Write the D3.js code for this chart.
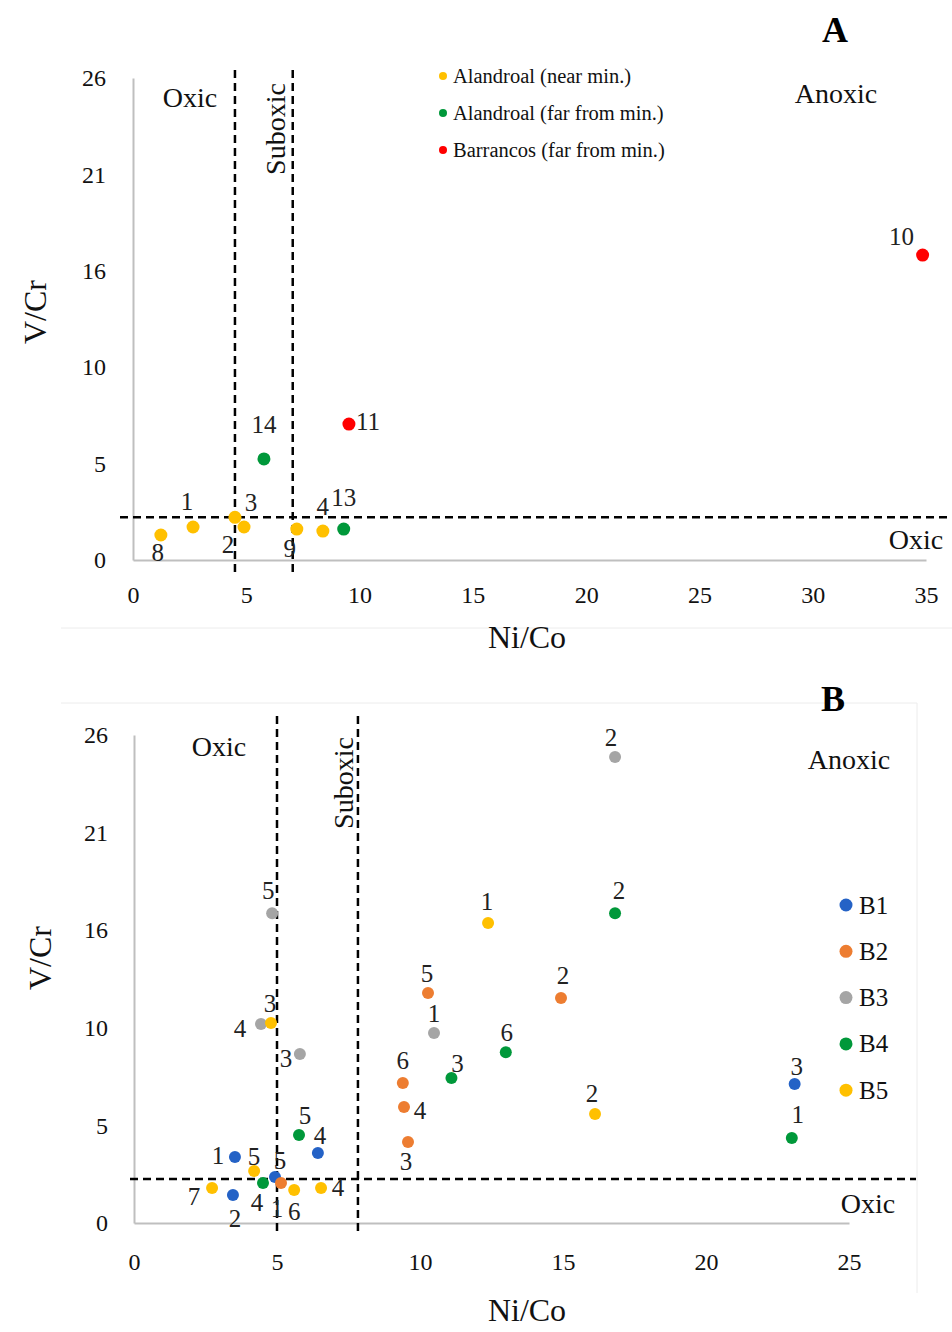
<!DOCTYPE html>
<html>
<head>
<meta charset="utf-8">
<script src="https://cdn.jsdelivr.net/npm/d3@7"></script>
<style>
  body { margin: 0; background: #fff; }
  svg { display: block; font-family: "Liberation Serif", "Times New Roman", serif; }
</style>
</head>
<body>
<div id="visualization"></div>
<script>
// shared
const yTickValues = [0, 5.2, 10.4, 15.6, 20.8, 26];

// panel A
const xTicksA = [0, 5, 10, 15, 20, 25, 30, 35];
const seriesNamesA = ['Alandroal (near min.)', 'Alandroal (far from min.)', 'Barrancos (far from min.)'];
const nearMinLabels = ['8', '1', '2', '3', '9', '4'];
const nearMinNiCo = [1.23, 2.65, 4.5, 4.9, 7.23, 8.38];
const nearMinVCr = [1.35, 1.78, 2.3, 1.78, 1.67, 1.56];
const farMinLabels = ['14', '13'];
const farMinNiCo = [5.78, 9.3];
const farMinVCr = [5.45, 1.67];
const barrancosLabels = ['11', '10'];
const barrancosNiCo = [9.53, 34.85];
const barrancosVCr = [7.33, 16.45];
const limitsNiCoA = [4.5, 7.05];
const limitsVCrA = [2.3];

// panel B
const xTicksB = [0, 5, 10, 15, 20, 25];
const seriesNamesB = ['B1', 'B2', 'B3', 'B4', 'B5'];
const b1Labels = ['1', '2', '3', '4', '5'];
const b1NiCo = [3.53, 3.46, 23.1, 6.43, 4.93];
const b1VCr = [3.52, 1.49, 7.4, 3.73, 2.45];
const b2Labels = ['1', '2', '3', '4', '5', '6'];
const b2NiCo = [5.14, 14.93, 9.58, 9.44, 10.28, 9.4];
const b2VCr = [2.13, 11.99, 4.32, 6.18, 12.25, 7.46];
const b3Labels = ['1', '2', '3', '4', '5'];
const b3NiCo = [10.49, 16.82, 5.8, 4.44, 4.83];
const b3VCr = [10.12, 24.83, 9.0, 10.6, 16.5];
const b4Labels = ['1', '2', '3', '4', '5', '6'];
const b4NiCo = [23.0, 16.82, 11.1, 4.51, 5.77, 13.0];
const b4VCr = [4.53, 16.5, 7.72, 2.13, 4.69, 9.1];
const b5Labels = ['1', '2', '3', '4', '5', '6', '7'];
const b5NiCo = [12.38, 16.12, 4.79, 6.54, 4.2, 5.6, 2.73];
const b5VCr = [15.98, 5.81, 10.65, 1.86, 2.77, 1.76, 1.86];
const limitsNiCoB = [5.0, 7.83];
const limitsVCrB = [2.34];

// label placement (pixel offsets from the dot)
const offsetsNearMin = [[-3, 18], [-6, -26], [-7, 27], [7, -25], [-7, 19], [0, -25]];
const offsetsFarMin = [[0, -34], [0, -32]];
const offsetsBarrancos = [[19, -3], [-21, -19]];
const offsetsB1 = [[-17, -1], [2, 23], [2, -18], [2, -17], [5, -17]];
const offsetsB2 = [[-4, 25], [2, -22], [-2, 20], [16, 3], [-1, -20], [0, -22]];
const offsetsB3 = [[0, -20], [-4, -19], [-14, 4], [-21, 4], [-4, -23]];
const offsetsB4 = [[6, -23], [4, -23], [6, -15], [-6, 19], [6, -19], [1, -20]];
const offsetsB5 = [[-1, -22], [-3, -20], [-1, -20], [17, -1], [0, -15], [0, 22], [-18, 8]];

const toPoints = (labels, xs, ys, offsets) => labels.map((label, i) => ({
  label, x: xs[i], y: ys[i], dx: offsets[i][0], dy: offsets[i][1]
}));

const panelA = {
  left: 133, right: 926, top: 78, bottom: 560,
  xMax: 35, xTicks: xTicksA, xPad: 26, yPad: 27,
  radius: 6.5, labelSize: 25,
  limitsX: limitsNiCoA, limitsY: limitsVCrA,
  vLineTop: 70, vLineBottom: 572, hLineLeft: 120, hLineRight: 952,
  series: [
    { name: seriesNamesA[0], color: '#ffc000', points: toPoints(nearMinLabels, nearMinNiCo, nearMinVCr, offsetsNearMin) },
    { name: seriesNamesA[1], color: '#00983a', points: toPoints(farMinLabels, farMinNiCo, farMinVCr, offsetsFarMin) },
    { name: seriesNamesA[2], color: '#ff0000', points: toPoints(barrancosLabels, barrancosNiCo, barrancosVCr, offsetsBarrancos) }
  ],
  legend: { x: 443, y: 76, step: 37, r: 4, size: 20.5, gap: 10 },
  letter: { text: 'A', x: 835, y: 42 },
  xTitle: { x: 527, y: 648 },
  yTitle: { x: 35, y: 312 },
  oxic: { x: 190, y: 107 },
  suboxic: { x: 275, y: 129 },
  anoxic: { x: 836, y: 103 },
  oxicLow: { x: 916, y: 549 },
  frame: [[61, 628, 952, 628]]
};

const panelB = {
  left: 134, right: 849, top: 735, bottom: 1223,
  xMax: 25, xTicks: xTicksB, xPad: 30, yPad: 26,
  radius: 6, labelSize: 25,
  limitsX: limitsNiCoB, limitsY: limitsVCrB,
  vLineTop: 716, vLineBottom: 1236, hLineLeft: 130, hLineRight: 916,
  series: [
    { name: seriesNamesB[0], color: '#2462c6', points: toPoints(b1Labels, b1NiCo, b1VCr, offsetsB1) },
    { name: seriesNamesB[1], color: '#ed7d31', points: toPoints(b2Labels, b2NiCo, b2VCr, offsetsB2) },
    { name: seriesNamesB[2], color: '#a5a5a5', points: toPoints(b3Labels, b3NiCo, b3VCr, offsetsB3) },
    { name: seriesNamesB[3], color: '#00983a', points: toPoints(b4Labels, b4NiCo, b4VCr, offsetsB4) },
    { name: seriesNamesB[4], color: '#ffc000', points: toPoints(b5Labels, b5NiCo, b5VCr, offsetsB5) }
  ],
  legend: { x: 846, y: 905, step: 46.3, r: 6.5, size: 25, gap: 13 },
  letter: { text: 'B', x: 833, y: 711 },
  xTitle: { x: 527, y: 1321 },
  yTitle: { x: 40, y: 958 },
  oxic: { x: 219, y: 756 },
  suboxic: { x: 343, y: 783 },
  anoxic: { x: 849, y: 769 },
  oxicLow: { x: 868, y: 1213 },
  frame: [[61, 703, 917, 703], [917, 703, 917, 1293]]
};

const chart = {
  width: 952,
  height: 1332,

  init() {
    this.svg = d3.select('#visualization').append('svg')
      .attr('width', this.width)
      .attr('height', this.height);

    this.drawPanel(panelA);
    this.drawPanel(panelB);
  },

  drawPanel(p) {
    const g = this.svg.append('g');
    const x = d3.scaleLinear().domain([0, p.xMax]).range([p.left, p.right]);
    const y = d3.scaleLinear().domain([0, 26]).range([p.bottom, p.top]);

    for (const f of p.frame) {
      g.append('line')
        .attr('x1', f[0]).attr('y1', f[1]).attr('x2', f[2]).attr('y2', f[3])
        .attr('stroke', '#ececec').attr('stroke-width', 1);
    }

    this.drawAxes(g, p, x, y);
    this.drawLimits(g, p, x, y);
    this.drawPoints(g, p, x, y);
    this.drawLegend(g, p);
    this.drawTexts(g, p);
  },

  drawAxes(g, p, x, y) {
    const xAxis = d3.axisBottom(x)
      .tickValues(p.xTicks)
      .tickSize(0)
      .tickPadding(p.xPad);
    const yAxis = d3.axisLeft(y)
      .tickValues(yTickValues)
      .tickFormat(d3.format('.0f'))
      .tickSize(0)
      .tickPadding(p.yPad);

    const gx = g.append('g').attr('transform', `translate(0,${p.bottom})`).call(xAxis);
    const gy = g.append('g').attr('transform', `translate(${p.left},0)`).call(yAxis);

    for (const a of [gx, gy]) {
      a.select('.domain').attr('stroke', '#bfbfbf').attr('stroke-width', 2);
      a.selectAll('text')
        .attr('font-family', '"Liberation Serif", serif')
        .attr('font-size', 24)
        .attr('fill', '#111');
    }
  },

  drawLimits(g, p, x, y) {
    g.selectAll(null)
      .data(p.limitsX)
      .join('line')
      .attr('x1', (d) => x(d)).attr('x2', (d) => x(d))
      .attr('y1', p.vLineTop).attr('y2', p.vLineBottom)
      .attr('stroke', '#000').attr('stroke-width', 2.5)
      .attr('stroke-dasharray', '8,5');

    g.selectAll(null)
      .data(p.limitsY)
      .join('line')
      .attr('x1', p.hLineLeft).attr('x2', p.hLineRight)
      .attr('y1', (d) => y(d)).attr('y2', (d) => y(d))
      .attr('stroke', '#000').attr('stroke-width', 2.5)
      .attr('stroke-dasharray', '8,5');
  },

  drawPoints(g, p, x, y) {
    for (const s of p.series) {
      g.selectAll(null)
        .data(s.points)
        .join('circle')
        .attr('cx', (d) => x(d.x))
        .attr('cy', (d) => y(d.y))
        .attr('r', p.radius)
        .attr('fill', s.color);

      g.selectAll(null)
        .data(s.points)
        .join('text')
        .attr('x', (d) => x(d.x) + d.dx)
        .attr('y', (d) => y(d.y) + d.dy)
        .attr('text-anchor', 'middle')
        .attr('dominant-baseline', 'central')
        .attr('font-size', p.labelSize)
        .attr('fill', '#222')
        .text((d) => d.label);
    }
  },

  drawLegend(g, p) {
    const l = p.legend;
    const items = g.selectAll(null)
      .data(p.series)
      .join('g')
      .attr('transform', (d, i) => `translate(${l.x},${l.y + i * l.step})`);

    items.append('circle').attr('r', l.r).attr('fill', (d) => d.color);
    items.append('text')
      .attr('x', l.gap)
      .attr('dominant-baseline', 'central')
      .attr('font-size', l.size)
      .attr('fill', '#111')
      .text((d) => d.name);
  },

  drawTexts(g, p) {
    const label = (pos, text, size, extra) => g.append('text')
      .attr('x', pos.x).attr('y', pos.y)
      .attr('text-anchor', 'middle')
      .attr('font-size', size)
      .attr('fill', '#111')
      .text(text)
      .call((t) => extra && extra(t));

    label(p.letter, p.letter.text, 36, (t) => t.attr('font-weight', 'bold').attr('fill', '#000'));
    label(p.xTitle, 'Ni/Co', 32);
    label(p.oxic, 'Oxic', 28);
    label(p.anoxic, 'Anoxic', 28);
    label(p.oxicLow, 'Oxic', 28);

    g.append('text')
      .attr('transform', `translate(${p.yTitle.x},${p.yTitle.y}) rotate(-90)`)
      .attr('text-anchor', 'middle')
      .attr('dominant-baseline', 'central')
      .attr('font-size', 32)
      .attr('fill', '#111')
      .text('V/Cr');

    g.append('text')
      .attr('transform', `translate(${p.suboxic.x},${p.suboxic.y}) rotate(-90)`)
      .attr('text-anchor', 'middle')
      .attr('dominant-baseline', 'central')
      .attr('font-size', 28)
      .attr('fill', '#111')
      .text('Suboxic');
  }
};

chart.init();
</script>
</body>
</html>
